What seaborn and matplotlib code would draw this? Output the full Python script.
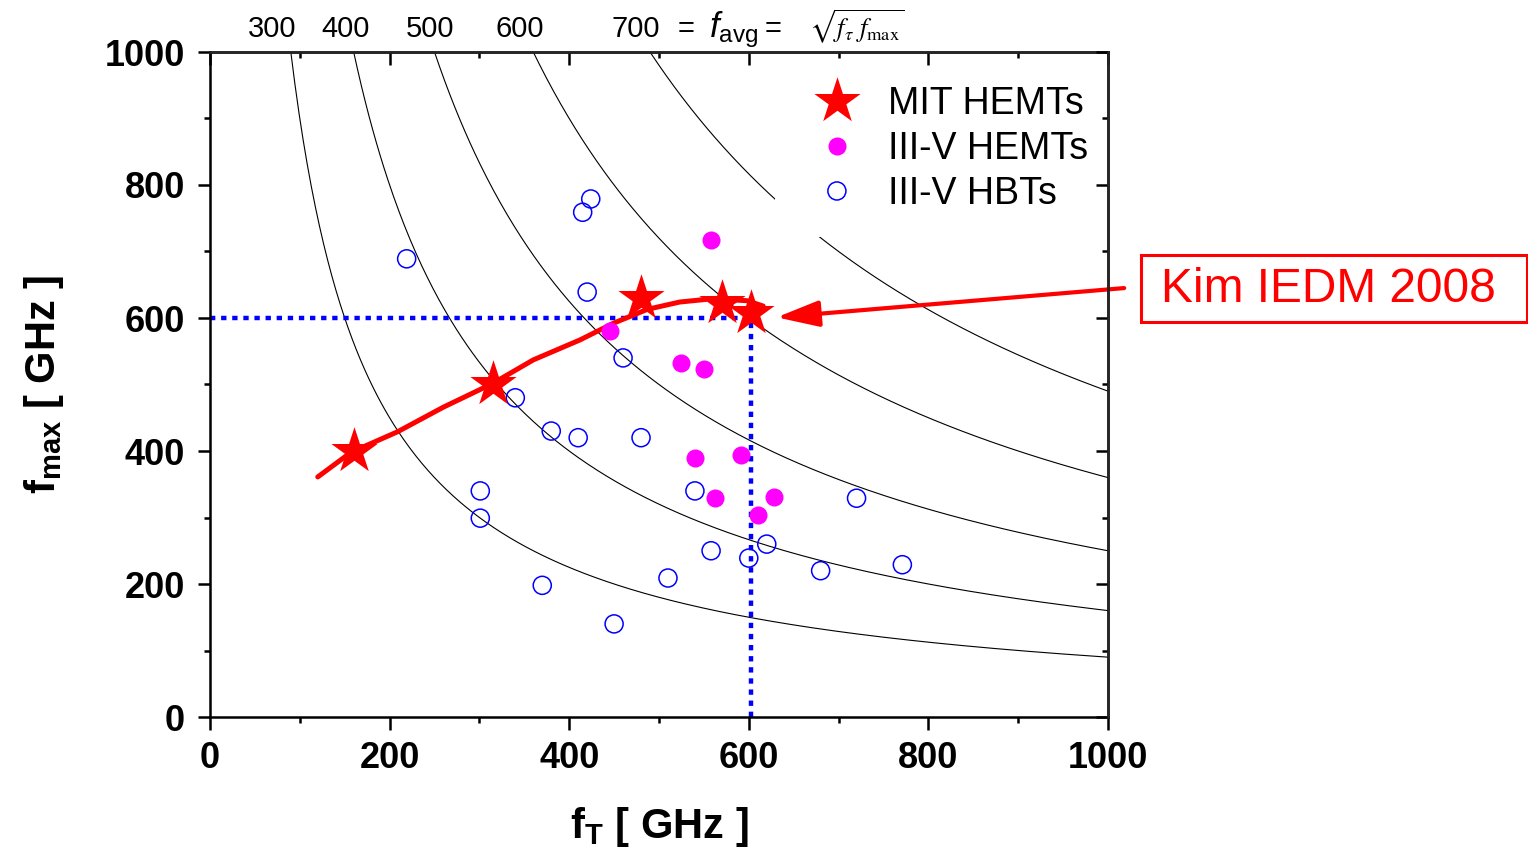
import numpy as np
import pandas as pd
import seaborn as sns
import matplotlib
matplotlib.use("Agg")
import matplotlib.pyplot as plt
import matplotlib.transforms as mtransforms
from matplotlib.patches import Rectangle, FancyArrowPatch
from matplotlib.ticker import MultipleLocator

# ---------------- data ----------------
mit_ft = [160, 315, 480, 570, 603]
mit_fmax = [400, 500, 630, 622, 608]

hemt_ft = [558, 445, 524, 550, 540, 591, 562, 628, 610]
hemt_fmax = [717, 580, 532, 523, 389, 394, 329, 331, 304]

hbt_ft = [424, 415, 219, 420, 460, 340, 380, 410, 480, 301, 301, 370, 450,
          510, 540, 558, 600, 620, 680, 720, 771]
hbt_fmax = [779, 759, 689, 639, 540, 480, 430, 420, 420, 340, 299, 198, 140,
            209, 340, 250, 239, 260, 220, 329, 229]

fit_ft = [120, 157, 209, 260, 314, 360, 412, 449, 487, 523, 560, 598, 616]
fit_fmax = [361, 398, 429, 466, 501, 537, 567, 592, 613, 624, 629, 626, 618]

favg_levels = [300, 400, 500, 600, 700]
favg_label_x = [69, 151, 245, 345, 474]   # label anchor positions (GHz)

ref_ft = 603
ref_fmax = 600
arrow_tip = (631, 601)
arrow_tail = (1018, 645)
callout_text = "Kim IEDM 2008"

# ---------------- style ----------------
sns.set_style("white")
plt.rcParams["font.family"] = ["Liberation Sans", "DejaVu Sans"]
plt.rcParams["mathtext.fontset"] = "custom"
plt.rcParams["mathtext.rm"] = "Liberation Sans"
plt.rcParams["mathtext.it"] = "Liberation Sans:italic"
plt.rcParams["mathtext.bf"] = "Liberation Sans:bold"
plt.rcParams["text.color"] = "black"
plt.rcParams["axes.labelcolor"] = "black"
plt.rcParams["xtick.color"] = "black"
plt.rcParams["ytick.color"] = "black"

fig = plt.figure(figsize=(15.28, 8.55), dpi=100)
ax = fig.add_axes([210 / 1528, 1 - 717 / 855, 898 / 1528, 665 / 855])

# constant f_avg curves
for f in favg_levels:
    ft = np.linspace(f ** 2 / 1000, 1000, 400)
    df = pd.DataFrame({"ft": ft, "fmax": f ** 2 / ft})
    sns.lineplot(data=df, x="ft", y="fmax", color="black", lw=0.8,
                 sort=False, estimator=None, ax=ax, zorder=1)

# dotted guide lines
dot_style = (0, (1.2, 1.3))
sns.lineplot(x=[0, ref_ft], y=[ref_fmax, ref_fmax], color="#0000FF", lw=3.2,
             linestyle=dot_style, sort=False, estimator=None, ax=ax, zorder=2)
sns.lineplot(x=[ref_ft, ref_ft], y=[0, ref_fmax], color="#0000FF", lw=3.2,
             linestyle=dot_style, sort=False, estimator=None, ax=ax, zorder=2)

# red trend line
sns.lineplot(x=fit_ft, y=fit_fmax, color="#FF0000", lw=3.6, sort=False,
             estimator=None, ax=ax, zorder=3)

# points
sns.scatterplot(x=hbt_ft, y=hbt_fmax, marker="o", s=13 ** 2,
                edgecolor="#0000FF", linewidth=1.1, label="III-V HBTs",
                ax=ax, zorder=4)
hbt_coll = ax.collections[-1]
hbt_coll.set_facecolor("none")
hbt_coll.set_edgecolor("#0000FF")

sns.scatterplot(x=hemt_ft, y=hemt_fmax, marker="o", s=13 ** 2,
                color="#FF00FF", edgecolor="#FF00FF", linewidth=0,
                label="III-V HEMTs", ax=ax, zorder=5)
hemt_coll = ax.collections[-1]

sns.scatterplot(x=mit_ft, y=mit_fmax, marker="*", s=35 ** 2,
                color="#FF0000", edgecolor="#FF0000", linewidth=0,
                label="MIT HEMTs", ax=ax, zorder=6)
mit_coll = ax.collections[-1]

# axes
ax.set_xlim(0, 1000)
ax.set_ylim(0, 1000)
for a in (ax.xaxis, ax.yaxis):
    a.set_major_locator(MultipleLocator(200))
    a.set_minor_locator(MultipleLocator(100))
ax.tick_params(axis="both", which="both", bottom=True, left=True, top=False,
               right=False)
ax.tick_params(axis="both", which="major", direction="out", length=9,
               width=1.8, labelsize=26, color="black")
ax.tick_params(axis="both", which="minor", direction="out", length=4.5,
               width=1.8, color="black")
ax.tick_params(axis="x", which="major", pad=8)
ax.tick_params(axis="y", which="major", pad=9)
for lab in ax.get_xticklabels() + ax.get_yticklabels():
    lab.set_fontweight("bold")
for s in ax.spines.values():
    s.set_linewidth(1.8)
    s.set_color("black")
    s.set_zorder(10)

secx = ax.secondary_xaxis("top")
secx.xaxis.set_major_locator(MultipleLocator(200))
secx.xaxis.set_minor_locator(MultipleLocator(100))
secx.tick_params(axis="x", which="both", top=True, bottom=False,
                 labeltop=False, direction="in", width=1.8, color="black")
secx.tick_params(axis="x", which="major", length=9)
secx.tick_params(axis="x", which="minor", length=4.5)
secx.spines["top"].set_linewidth(1.8)
secx.set_zorder(10)

secy = ax.secondary_yaxis("right")
secy.yaxis.set_major_locator(MultipleLocator(200))
secy.yaxis.set_minor_locator(MultipleLocator(100))
secy.tick_params(axis="y", which="both", right=True, left=False,
                 labelright=False, direction="in", width=1.8, color="black")
secy.tick_params(axis="y", which="major", length=9)
secy.tick_params(axis="y", which="minor", length=4.5)
secy.spines["right"].set_linewidth(1.8)
secy.set_zorder(10)

ax.set_xlabel(r"$\mathbf{f}_{\mathbf{T}}$ [ GHz ]", fontsize=30,
              fontweight="bold")
ax.set_ylabel(r"$\mathbf{f}_{\mathbf{max}}$ [ GHz ]", fontsize=30,
              fontweight="bold")
ax.xaxis.set_label_coords(0.5, -0.132)
ax.yaxis.set_label_coords(-0.160, 0.5)

# top labels
trans = mtransforms.blended_transform_factory(ax.transData, ax.transAxes)
for f, lx in zip(favg_levels, favg_label_x):
    ax.text(lx, 1.022, str(f), transform=trans, ha="center",
            va="baseline", fontsize=21)
ax.text(0.530, 1.022, "=", transform=ax.transAxes, ha="center",
        va="baseline", fontsize=21)
ax.text(0.556, 1.022, r"$f_{\rm avg}$", transform=ax.transAxes, ha="left",
        va="baseline", fontsize=25)
ax.text(0.627, 1.022, "=", transform=ax.transAxes, ha="center",
        va="baseline", fontsize=21)
ax.text(0.667, 1.022, r"$\sqrt{f_\tau\ f_{\rm max}}$", transform=ax.transAxes,
        ha="left", va="baseline", fontsize=19, math_fontfamily="stix")

# legend
leg = ax.legend([mit_coll, hemt_coll, hbt_coll],
                ["MIT HEMTs", "III-V HEMTs", "III-V HBTs"],
                loc="upper left", bbox_to_anchor=(0.629, 0.9865),
                borderaxespad=0, fontsize=27, borderpad=0.67,
                handlelength=1.97, handletextpad=0.37, labelspacing=0.24,
                frameon=True, fancybox=False, framealpha=1,
                facecolor="white", edgecolor="none", scatterpoints=1,
                scatteryoffsets=[0.5])
leg.set_zorder(7)

# callout box + arrow
fig.patches.append(Rectangle((1141 / 1528, 1 - 322 / 855), 386 / 1528,
                             67 / 855, transform=fig.transFigure,
                             fill=False, edgecolor="#FF0000", lw=2.2))
fig.text(1328 / 1528, 1 - 290 / 855, callout_text,
         color="#FF0000", fontsize=34.5, ha="center", va="center")
arr = FancyArrowPatch(arrow_tail, arrow_tip, transform=ax.transData,
                      arrowstyle="-|>,head_length=1.3,head_width=0.4",
                      mutation_scale=20, color="#FF0000", lw=3,
                      shrinkA=0, shrinkB=0, clip_on=False, zorder=8)
ax.add_patch(arr)

fig.savefig("out.png", dpi=100)
